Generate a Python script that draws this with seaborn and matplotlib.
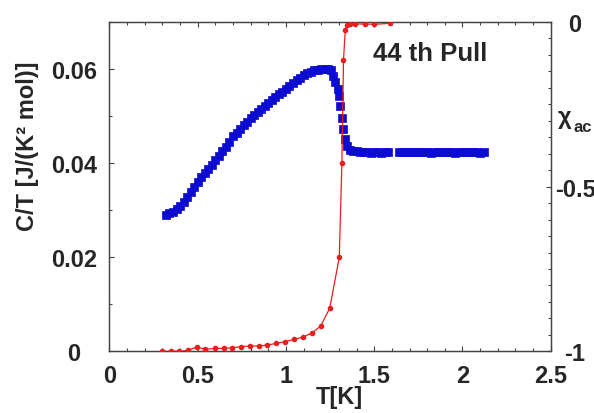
import matplotlib
matplotlib.use("Agg")
import matplotlib.pyplot as plt
from matplotlib.ticker import MultipleLocator
import seaborn as sns
import pandas as pd

# ---- data ----
# specific heat C/T (left axis)
ct_T = [0.32, 0.34, 0.36, 0.38, 0.40, 0.42, 0.44, 0.46, 0.48, 0.50,
        0.52, 0.54, 0.56, 0.58, 0.60, 0.62, 0.64, 0.66, 0.68, 0.70,
        0.72, 0.74, 0.76, 0.78, 0.80, 0.82, 0.84, 0.86, 0.88, 0.90,
        0.92, 0.94, 0.96, 0.98, 1.00, 1.02, 1.04, 1.06, 1.08, 1.10,
        1.12, 1.14, 1.16, 1.18, 1.20, 1.22, 1.24, 1.255, 1.268, 1.28,
        1.294, 1.298, 1.307, 1.317, 1.326, 1.336, 1.345, 1.364, 1.38, 1.40,
        1.42, 1.44, 1.46, 1.48, 1.50, 1.52, 1.54, 1.56, 1.58, 1.64,
        1.66, 1.68, 1.70, 1.72, 1.74, 1.76, 1.78, 1.80, 1.82, 1.84,
        1.86, 1.88, 1.90, 1.92, 1.94, 1.96, 1.98, 2.00, 2.02, 2.04,
        2.06, 2.08, 2.10, 2.12]
ct_val = [0.0290, 0.0293, 0.0297, 0.0302, 0.0309, 0.0318, 0.0328, 0.0339, 0.0350, 0.0360,
          0.0370, 0.0379, 0.0388, 0.0397, 0.0407, 0.0416, 0.0425, 0.0435, 0.0446, 0.0457,
          0.0465, 0.0473, 0.0481, 0.0488, 0.0495, 0.0502, 0.0509, 0.0516, 0.0522, 0.0528,
          0.0534, 0.0540, 0.0546, 0.0552, 0.0558, 0.0564, 0.0570, 0.0576, 0.0582, 0.0587,
          0.0591, 0.0594, 0.0597, 0.0599, 0.0600, 0.0601, 0.0600, 0.0597, 0.0585, 0.0572,
          0.0557, 0.0542, 0.0522, 0.0496, 0.0472, 0.0451, 0.0437, 0.0428, 0.0426, 0.0425,
          0.0424, 0.0423, 0.0423, 0.0422, 0.0423, 0.0423, 0.0422, 0.0423, 0.0423, 0.0424,
          0.0423, 0.0423, 0.0424, 0.0423, 0.0423, 0.0424, 0.0423, 0.0423, 0.0422, 0.0423,
          0.0423, 0.0424, 0.0423, 0.0423, 0.0423, 0.0422, 0.0423, 0.0423, 0.0424, 0.0423,
          0.0423, 0.0423, 0.0422, 0.0423]

# ac susceptibility chi_ac (right axis)
chi_T = [0.297, 0.347, 0.396, 0.445, 0.494, 0.544, 0.597, 0.648, 0.697, 0.746,
         0.795, 0.845, 0.894, 0.945, 0.994, 1.045, 1.094, 1.146, 1.197, 1.248,
         1.302, 1.317, 1.326, 1.336, 1.345, 1.364, 1.393, 1.449, 1.497, 1.591]
chi_val = [-1.000, -1.000, -1.000, -0.997, -0.987, -0.994, -0.991, -0.991, -0.989, -0.986,
           -0.984, -0.984, -0.981, -0.976, -0.971, -0.964, -0.957, -0.945, -0.923, -0.869,
           -0.715, -0.427, -0.115, -0.025, -0.010, -0.006, -0.006, -0.006, -0.007, -0.004]

x_ticks = [0, 0.5, 1, 1.5, 2, 2.5]
x_tick_labels = ["0", "0.5", "1", "1.5", "2", "2.5"]
left_ticks = [0, 0.02, 0.04, 0.06]
left_tick_labels = ["0", "0.02", "0.04", "0.06"]
right_ticks = [-1, -0.5, 0]
right_tick_labels = ["-1", "-0.5", "0"]

df_ct = pd.DataFrame({"T": ct_T, "CT": ct_val})
df_chi = pd.DataFrame({"T": chi_T, "chi": chi_val})

# ---- style ----
sns.set_style("white")
plt.rcParams["font.family"] = ["Liberation Sans", "DejaVu Sans"]
plt.rcParams["font.weight"] = "bold"

BLUE = "#0c0cd0"
RED = "#ea1c1c"
SPINE = "#444444"

fig = plt.figure(figsize=(5.94, 4.14), dpi=100)
ax = fig.add_axes([0.1843, 0.149, 0.7428, 0.7954])

sns.scatterplot(data=df_ct, x="T", y="CT", ax=ax, marker="s", s=36,
                color=BLUE, edgecolor=BLUE, linewidth=0.5, zorder=3)

ax2 = ax.twinx()
sns.lineplot(data=df_chi, x="T", y="chi", ax=ax2, color=RED, linewidth=0.9,
             marker="o", markersize=4, markeredgewidth=0, zorder=4)

ax.set_xlim(0, 2.5)
ax.set_ylim(0, 0.07)
ax2.set_ylim(-1, 0)

ax.set_xticks(x_ticks)
ax.set_xticklabels(x_tick_labels)
ax.xaxis.set_minor_locator(MultipleLocator(0.1))
ax.set_yticks(left_ticks)
ax.set_yticklabels(left_tick_labels)
ax.yaxis.set_minor_locator(MultipleLocator(0.01))
ax2.set_yticks(right_ticks)
ax2.set_yticklabels(right_tick_labels)
ax2.yaxis.set_minor_locator(MultipleLocator(0.05))

tick_font = 17
ax.tick_params(axis="x", which="both", direction="in", top=True, bottom=True,
               color=SPINE, width=0.8, labelsize=tick_font, pad=9)
ax.tick_params(axis="x", which="major", length=3.5)
ax.tick_params(axis="x", which="minor", length=2.5)
ax.tick_params(axis="y", which="both", direction="in", left=True, right=False,
               color=SPINE, width=0.8, labelsize=tick_font, pad=25.5)
ax.tick_params(axis="y", which="major", length=3.5)
ax.tick_params(axis="y", which="minor", length=2.5)
ax2.tick_params(axis="y", which="both", direction="in", right=True, left=False,
                color=SPINE, width=0.8, labelsize=tick_font, pad=17.5)
ax2.tick_params(axis="y", which="major", length=3.5)
ax2.tick_params(axis="y", which="minor", length=2.5)

for lab in ax.get_yticklabels():
    lab.set_horizontalalignment("center")
    lab.set_fontweight("bold")
for lab in ax2.get_yticklabels():
    lab.set_horizontalalignment("center")
    lab.set_fontweight("bold")
for lab in ax.get_xticklabels():
    lab.set_fontweight("bold")

for a in (ax, ax2):
    for sp in a.spines.values():
        sp.set_color(SPINE)
        sp.set_linewidth(0.9)
        sp.set_visible(True)

ax.set_xlabel("T[K]", fontsize=17, fontweight="bold")
ax.xaxis.set_label_coords(0.522, -0.136)
ax.xaxis.label.set_verticalalignment("center")

ax.set_ylabel("C/T [J/(K² mol)]", fontsize=17, fontweight="bold")
ax.yaxis.set_label_coords(-0.185, 0.627)
ax.yaxis.label.set_verticalalignment("center")

ax2.set_ylabel("")
fig.text(558 / 594, 1 - 118 / 414, "χ", fontsize=17, fontweight="bold",
         ha="left", va="center")
fig.text(573 / 594, 1 - 127 / 414, "ac", fontsize=12, fontweight="bold",
         ha="left", va="center")

ax.text(0.597, 0.906, "44 th Pull", transform=ax.transAxes, fontsize=18.5,
        fontweight="bold", ha="left", va="center")

ax.grid(False)
ax2.grid(False)

fig.savefig("out.png", dpi=100)
